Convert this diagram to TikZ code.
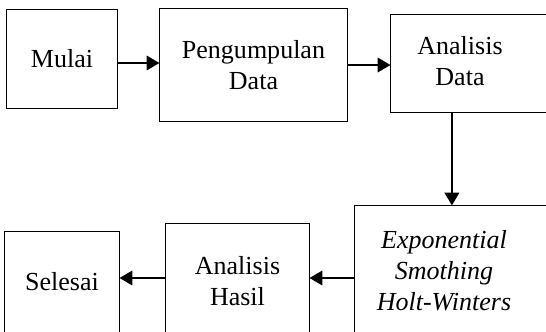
\documentclass[tikz,border=0pt]{standalone}
\usepackage{fontspec}
\setmainfont{Liberation Serif}
\usepackage{tikz}
\usetikzlibrary{shapes,arrows.meta}
\tikzstyle{block} = [rectangle, draw, line width=0.7pt, inner sep=0pt,
    align=center, font=\fontsize{18.5}{22.2}\selectfont]
\tikzstyle{arrow} = [line width=1.5pt,-{Triangle[length=0.32cm,width=0.36cm]}]

\begin{document}
\begin{tikzpicture}[x=0.025cm, y=-0.025cm]
		\useasboundingbox (0,0) rectangle (546,331);
		\clip (0,0) rectangle (546,331);
		% draw the text boxes first
		\node [block, minimum width=2.75cm, minimum height=2.45cm] (mulai) at (62,59) {Mulai};
		\node [block, minimum width=4.675cm, minimum height=2.8cm] (kumpul) at (253.5,65) {Pengumpulan\\Data};
		\node [block, minimum width=4.225cm, minimum height=2.425cm] (dat) at (475.5,63.5)
			{\begin{tabular}{@{}c@{}}Analisis\\Data\end{tabular}\hspace*{0.775cm}};
		\node [block, minimum width=5.125cm, minimum height=3.35cm] (exp) at (457.5,273)
			{\itshape\begin{tabular}{@{}c@{}}Exponential\\Smothing\\Holt-Winters\end{tabular}\hspace*{0.675cm}};
		\node [block, minimum width=3.575cm, minimum height=2.85cm] (hasil) at (237.5,281) {Analisis\\Hasil};
		\node [block, minimum width=2.85cm, minimum height=2.55cm] (selesai) at (62,282) {Selesai};

		% draw the edges connecting text boxes
		\draw [arrow] ([yshift=-0.1cm]mulai.east) -- ([yshift=-0.1cm]mulai.east -| kumpul.west);
		\draw [arrow] (kumpul.east) -- (kumpul.east -| dat.west);
		\draw [arrow] ([xshift=-0.59cm]dat.south) -- ([xshift=-0.59cm]dat.south |- exp.north);
		\draw [arrow] ([yshift=0.075cm]exp.west |- hasil.east) -- ([yshift=0.075cm]hasil.east);
		\draw [arrow] ([yshift=0.075cm]hasil.west) -- ([yshift=0.075cm]hasil.west -| selesai.east);
	\end{tikzpicture}
\end{document}
